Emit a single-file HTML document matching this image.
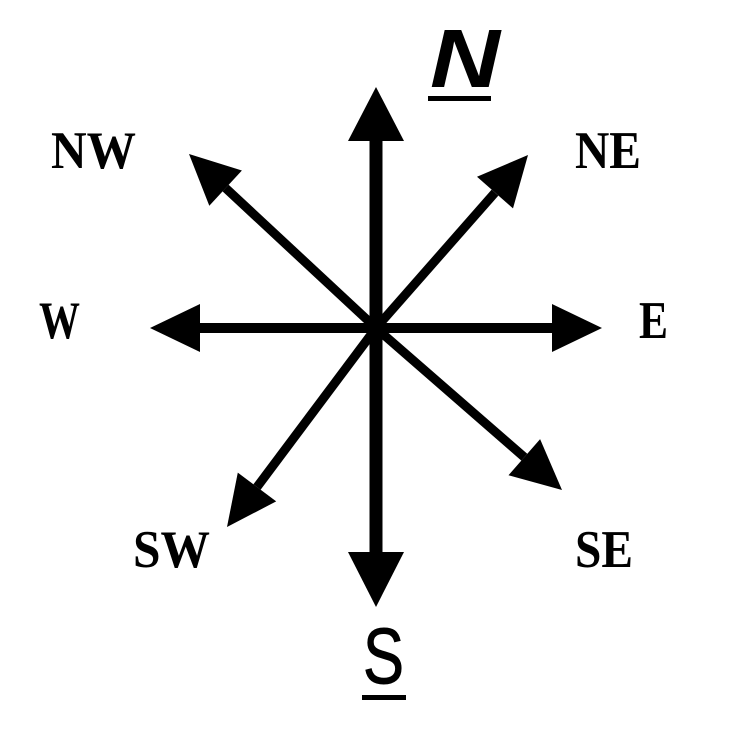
<!DOCTYPE html>
<html><head><style>html,body{margin:0;padding:0;background:#fff}svg{display:block}</style></head>
<body>
<svg width="754" height="752" viewBox="0 0 754 752" xmlns="http://www.w3.org/2000/svg">
<rect width="754" height="752" fill="#fff"/>
<g stroke="#000" stroke-width="13" fill="none">
<line x1="376" y1="135" x2="376" y2="558"/>
</g>
<g stroke="#000" stroke-width="10" fill="none">
<line x1="196" y1="328" x2="556" y2="328"/>
</g>
<g stroke="#000" stroke-width="9" fill="none">
<line x1="376" y1="328" x2="225.6" y2="188.1"/>
<line x1="376" y1="328" x2="495" y2="192.6"/>
<line x1="376" y1="328" x2="524.3" y2="457.2"/>
<line x1="376" y1="328" x2="257" y2="487"/>
</g>
<g fill="#000">
<polygon points="376,87 404,141 348,141"/>
<polygon points="376,607 404,552 348,552"/>
<polygon points="150,328 200,304 200,352"/>
<polygon points="602,328 552,304 552,352"/>
<polygon points="189,154 241.9,170.5 209.3,205.7"/>
<polygon points="528,155 513,208.4 477,176.8"/>
<polygon points="562,490 508.5,475.3 540.1,439.1"/>
<polygon points="227,527 276.2,501.4 237.8,472.6"/>
</g>
<g font-family="Liberation Serif, serif" font-weight="bold" font-size="53" fill="#000">
<text x="51" y="168" textLength="85" lengthAdjust="spacingAndGlyphs">NW</text>
<text x="575" y="168" textLength="66" lengthAdjust="spacingAndGlyphs">NE</text>
<text x="39" y="338" textLength="41" lengthAdjust="spacingAndGlyphs">W</text>
<text x="639" y="338" textLength="29" lengthAdjust="spacingAndGlyphs">E</text>
<text x="133" y="567" textLength="77" lengthAdjust="spacingAndGlyphs">SW</text>
<text x="575" y="567" textLength="58" lengthAdjust="spacingAndGlyphs">SE</text>
</g>
<text x="430" y="87" font-family="Liberation Sans, sans-serif" font-weight="bold" font-size="83" font-style="italic" textLength="70" lengthAdjust="spacingAndGlyphs">N</text>
<rect x="428" y="96" width="63" height="5" fill="#000"/>
<text x="363" y="683" font-family="Liberation Sans, sans-serif" font-size="79" stroke="#000" stroke-width="1" textLength="41" lengthAdjust="spacingAndGlyphs">S</text>
<rect x="362" y="695" width="44" height="5" fill="#000"/>
</svg>
</body></html>
